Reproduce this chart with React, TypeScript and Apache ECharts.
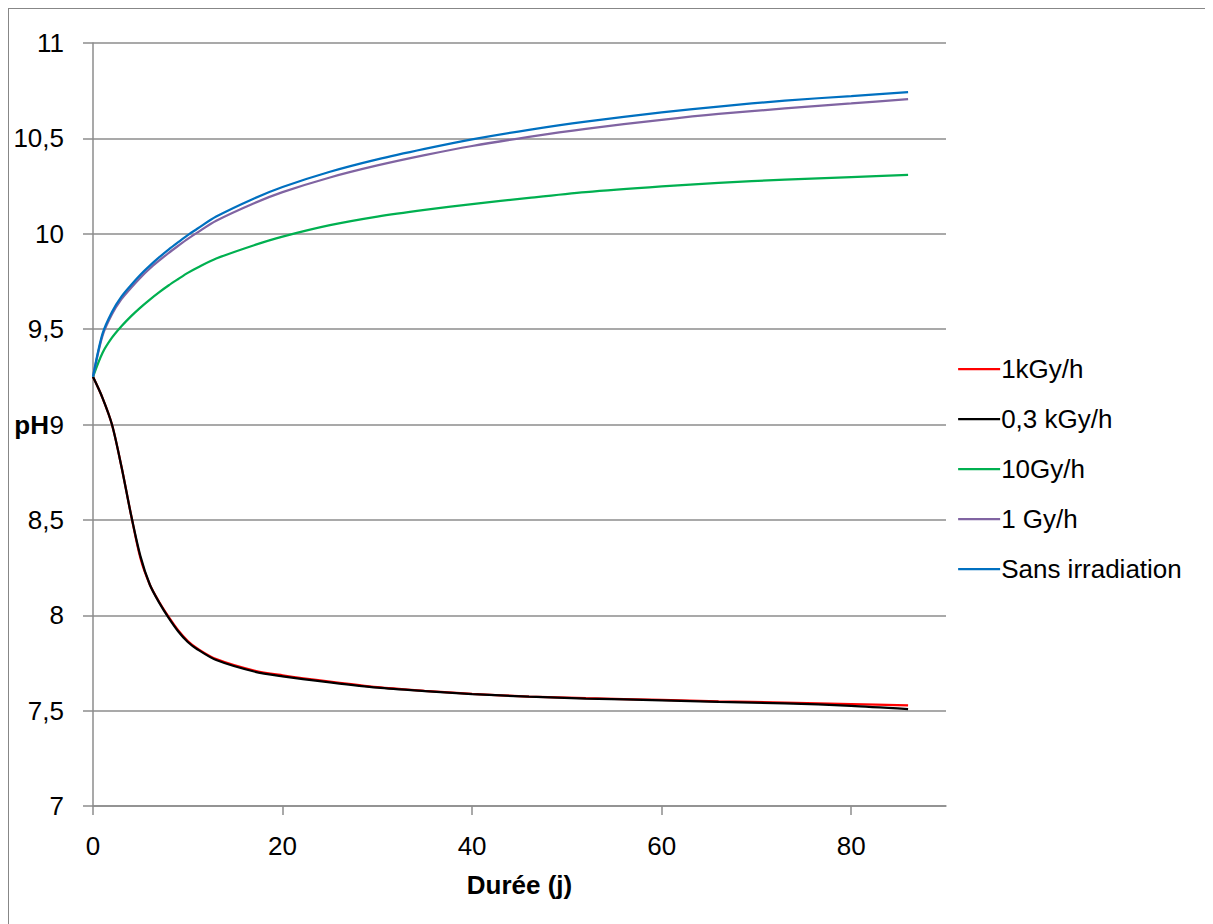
import React, { useEffect, useRef } from "react";
import * as echarts from "echarts";

// Durée (jours)
const days = [0, 1, 2, 3, 4, 5, 6, 7, 8, 9, 10, 11, 13, 17, 20, 25, 30, 35, 40, 46, 52, 60, 66, 73, 80, 86];

// pH values
const ph1kGy = [9.25, 9.14, 9.0, 8.78, 8.53, 8.3, 8.16, 8.068, 7.99, 7.92, 7.865, 7.826, 7.77, 7.71, 7.685, 7.652, 7.623, 7.604, 7.588, 7.574, 7.565, 7.556, 7.549, 7.542, 7.534, 7.527];
const ph03kGy = [9.25, 9.14, 9.0, 8.78, 8.53, 8.31, 8.16, 8.065, 7.985, 7.915, 7.86, 7.822, 7.765, 7.705, 7.68, 7.648, 7.62, 7.602, 7.587, 7.573, 7.563, 7.554, 7.546, 7.538, 7.525, 7.508];
const ph10Gy = [9.25, 9.375, 9.455, 9.515, 9.567, 9.613, 9.655, 9.694, 9.73, 9.763, 9.795, 9.822, 9.87, 9.94, 9.985, 10.045, 10.09, 10.125, 10.155, 10.188, 10.218, 10.248, 10.267, 10.284, 10.297, 10.308];
const ph1Gy = [9.25, 9.465, 9.578, 9.657, 9.716, 9.77, 9.818, 9.86, 9.9, 9.937, 9.973, 10.006, 10.068, 10.16, 10.218, 10.295, 10.358, 10.412, 10.46, 10.508, 10.55, 10.597, 10.628, 10.657, 10.683, 10.706];
const phSans = [9.25, 9.475, 9.59, 9.67, 9.73, 9.785, 9.833, 9.877, 9.918, 9.956, 9.993, 10.026, 10.09, 10.185, 10.245, 10.325, 10.39, 10.445, 10.495, 10.545, 10.588, 10.636, 10.667, 10.698, 10.722, 10.743];

const seriesNames = ["1kGy/h", "0,3 kGy/h", "10Gy/h", "1 Gy/h", "Sans irradiation"];
const seriesValues = [ph1kGy, ph03kGy, ph10Gy, ph1Gy, phSans];
const seriesColors = ["#ff0000", "#000000", "#00b050", "#8064a2", "#0070c0"];

const xTicks = [0, 20, 40, 60, 80];

const FONT = "Liberation Sans";
const GRID = "#8c8c8c";

export default function App() {
  const ref = useRef<HTMLDivElement>(null);
  useEffect(() => {
    const chart = echarts.init(ref.current!, null, { renderer: "svg" });
    chart.setOption({
      animation: false,
      textStyle: { fontFamily: FONT },
      grid: { left: 84, top: 34, right: 267, bottom: 118, containLabel: false, outerBoundsMode: "none" },
      legend: {
        orient: "vertical",
        left: 943,
        top: 342,
        itemWidth: 42,
        itemHeight: 14,
        itemGap: 24,
        itemStyle: { opacity: 0 },
        lineStyle: { width: 2.25 },
        textStyle: { fontFamily: FONT, fontSize: 26, color: "#000", padding: [0, 0, 0, -4] },
        data: seriesNames,
      },
      xAxis: {
        type: "value",
        min: 0,
        max: 90,
        interval: 20,
        name: "Durée (j)",
        nameLocation: "middle",
        nameGap: 66,
        nameMoveOverlap: false,
        nameTextStyle: { fontFamily: FONT, fontSize: 26, fontWeight: "bold", color: "#000" },
        axisLine: { show: true, lineStyle: { color: GRID, width: 1.5 } },
        axisTick: { show: true, length: 9, customValues: xTicks, lineStyle: { color: GRID, width: 1.5 } },
        axisLabel: { customValues: xTicks, margin: 27, fontFamily: FONT, fontSize: 26, color: "#000" },
        splitLine: { show: false },
      },
      yAxis: {
        type: "value",
        min: 7,
        max: 11,
        interval: 0.5,
        name: "pH",
        nameLocation: "middle",
        nameRotate: 0,
        nameGap: 44,
        nameMoveOverlap: false,
        nameTextStyle: { fontFamily: FONT, fontSize: 26, fontWeight: "bold", color: "#000", align: "right", verticalAlign: "middle" },
        axisLine: { show: true, lineStyle: { color: GRID, width: 1.5 } },
        axisTick: { show: true, length: 10, lineStyle: { color: GRID, width: 1.5 } },
        axisLabel: {
          margin: 29,
          fontFamily: FONT,
          fontSize: 26,
          color: "#000",
          formatter: (v: number) => String(v).replace(".", ","),
        },
        splitLine: { show: true, lineStyle: { color: GRID, width: 1.5 } },
      },
      series: seriesNames.map((name, i) => ({
        name,
        type: "line",
        data: days.map((d, j) => [d, seriesValues[i][j]]),
        smooth: 0.3,
        symbol: "none",
        showSymbol: false,
        lineStyle: { color: seriesColors[i], width: 2.25 },
        itemStyle: { color: seriesColors[i] },
      })),
    });
    return () => chart.dispose();
  }, []);
  return (
    <div style={{ borderTop: "1px solid #878787", borderLeft: "1px solid #878787", width: 1204, height: 915 }}>
      <div ref={ref} style={{ width: 1204, height: 915 }} />
    </div>
  );
}
